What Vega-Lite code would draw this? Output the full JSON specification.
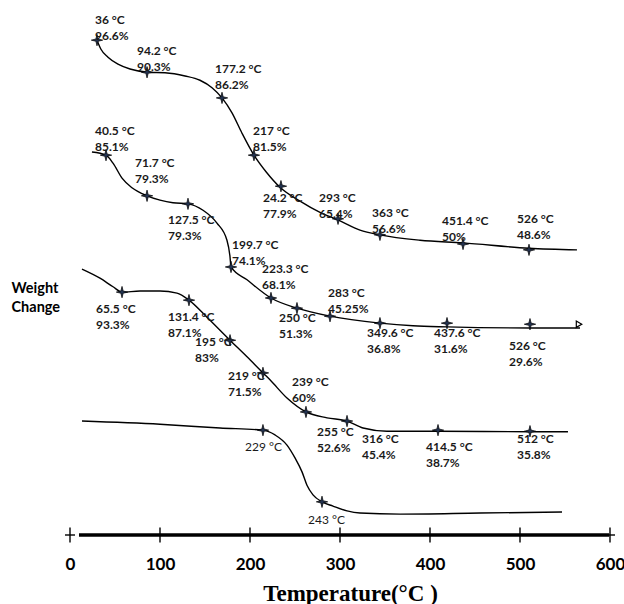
{
  "$schema": "https://vega.github.io/schema/vega-lite/v6.json",
  "width": 540,
  "height": 535,
  "autosize": {"type": "none"},
  "padding": {"left": 70, "top": 0, "right": 14, "bottom": 69},
  "background": "white",
  "config": {"view": {"stroke": null}},
  "datasets": {
    "curves": [
      {"curve": 1, "x": 30, "y": 92.5}, {"curve": 1, "x": 34.4, "y": 90.8}, {"curve": 1, "x": 42.2, "y": 89.3}, {"curve": 1, "x": 53.3, "y": 88.0}, {"curve": 1, "x": 66.7, "y": 87.1}, {"curve": 1, "x": 86.7, "y": 86.5}, {"curve": 1, "x": 105.6, "y": 86.4}, {"curve": 1, "x": 127.8, "y": 85.8}, {"curve": 1, "x": 144.4, "y": 85.0}, {"curve": 1, "x": 157.8, "y": 83.6}, {"curve": 1, "x": 168.9, "y": 81.7}, {"curve": 1, "x": 180, "y": 78.9}, {"curve": 1, "x": 191.1, "y": 75.1}, {"curve": 1, "x": 204.4, "y": 71.0}, {"curve": 1, "x": 217.8, "y": 67.9}, {"curve": 1, "x": 233.3, "y": 65.0}, {"curve": 1, "x": 255.6, "y": 62.4}, {"curve": 1, "x": 277.8, "y": 60.3}, {"curve": 1, "x": 297.8, "y": 58.9}, {"curve": 1, "x": 322.2, "y": 57.0}, {"curve": 1, "x": 344.4, "y": 56.1}, {"curve": 1, "x": 388.9, "y": 55.1}, {"curve": 1, "x": 436.7, "y": 54.6}, {"curve": 1, "x": 510, "y": 53.6}, {"curve": 1, "x": 563.3, "y": 53.3},
      {"curve": 2, "x": 24.4, "y": 71.6}, {"curve": 2, "x": 40, "y": 71.0}, {"curve": 2, "x": 47.8, "y": 69.5}, {"curve": 2, "x": 57.8, "y": 66.7}, {"curve": 2, "x": 68.9, "y": 64.9}, {"curve": 2, "x": 85.6, "y": 63.4}, {"curve": 2, "x": 100, "y": 62.6}, {"curve": 2, "x": 114.4, "y": 62.1}, {"curve": 2, "x": 131.1, "y": 61.9}, {"curve": 2, "x": 147.8, "y": 60.7}, {"curve": 2, "x": 163.3, "y": 58.3}, {"curve": 2, "x": 174.4, "y": 55.1}, {"curve": 2, "x": 177.8, "y": 52.0}, {"curve": 2, "x": 178.9, "y": 50.1}, {"curve": 2, "x": 196.7, "y": 47.7}, {"curve": 2, "x": 223.3, "y": 44.3}, {"curve": 2, "x": 252.2, "y": 42.4}, {"curve": 2, "x": 288.9, "y": 40.9}, {"curve": 2, "x": 344.4, "y": 39.6}, {"curve": 2, "x": 381.1, "y": 39.1}, {"curve": 2, "x": 418.9, "y": 38.9}, {"curve": 2, "x": 511.1, "y": 38.7}, {"curve": 2, "x": 566.7, "y": 38.7},
      {"curve": 3, "x": 13.3, "y": 49.7}, {"curve": 3, "x": 33.3, "y": 48.0}, {"curve": 3, "x": 47.8, "y": 46.4}, {"curve": 3, "x": 57.8, "y": 45.4}, {"curve": 3, "x": 77.8, "y": 45.6}, {"curve": 3, "x": 100, "y": 45.6}, {"curve": 3, "x": 118.9, "y": 45.2}, {"curve": 3, "x": 132.2, "y": 43.9}, {"curve": 3, "x": 152.2, "y": 40.7}, {"curve": 3, "x": 177.8, "y": 36.4}, {"curve": 3, "x": 196.7, "y": 33.3}, {"curve": 3, "x": 214.4, "y": 30.3}, {"curve": 3, "x": 222.2, "y": 29.0}, {"curve": 3, "x": 241.1, "y": 25.6}, {"curve": 3, "x": 262.2, "y": 23.0}, {"curve": 3, "x": 285.6, "y": 21.9}, {"curve": 3, "x": 307.8, "y": 21.3}, {"curve": 3, "x": 325.6, "y": 20.0}, {"curve": 3, "x": 352.2, "y": 19.4}, {"curve": 3, "x": 408.9, "y": 19.4}, {"curve": 3, "x": 511.1, "y": 19.3}, {"curve": 3, "x": 553.3, "y": 19.3},
      {"curve": 4, "x": 13.3, "y": 21.3}, {"curve": 4, "x": 100, "y": 20.7}, {"curve": 4, "x": 166.7, "y": 20.0}, {"curve": 4, "x": 214.4, "y": 19.6}, {"curve": 4, "x": 227.8, "y": 18.7}, {"curve": 4, "x": 241.1, "y": 16.8}, {"curve": 4, "x": 250, "y": 14.4}, {"curve": 4, "x": 257.8, "y": 11.8}, {"curve": 4, "x": 263.3, "y": 9.3}, {"curve": 4, "x": 270, "y": 7.5}, {"curve": 4, "x": 280, "y": 6.2}, {"curve": 4, "x": 292.2, "y": 5.4}, {"curve": 4, "x": 307.8, "y": 4.5}, {"curve": 4, "x": 322.2, "y": 4.1}, {"curve": 4, "x": 366.7, "y": 3.9}, {"curve": 4, "x": 455.6, "y": 4.1}, {"curve": 4, "x": 546.7, "y": 4.3}
    ],
    "markers": [
      {"x": 30, "y": 92.5}, {"x": 85.6, "y": 86.5}, {"x": 168.9, "y": 81.7}, {"x": 204.4, "y": 71.0}, {"x": 234.4, "y": 65.2}, {"x": 297.8, "y": 59.1}, {"x": 344.4, "y": 56.1}, {"x": 436.7, "y": 54.4}, {"x": 510, "y": 53.3},
      {"x": 40, "y": 71.0}, {"x": 85.6, "y": 63.4}, {"x": 131.1, "y": 61.9}, {"x": 178.9, "y": 50.1}, {"x": 223.3, "y": 44.3}, {"x": 252.2, "y": 42.4}, {"x": 288.9, "y": 40.9}, {"x": 344.4, "y": 39.6}, {"x": 418.9, "y": 39.6}, {"x": 511.1, "y": 39.4},
      {"x": 57.8, "y": 45.4}, {"x": 132.2, "y": 43.9}, {"x": 177.8, "y": 36.4}, {"x": 214.4, "y": 30.3}, {"x": 262.2, "y": 23.0}, {"x": 307.8, "y": 21.3}, {"x": 408.9, "y": 19.6}, {"x": 511.1, "y": 19.4},
      {"x": 214.4, "y": 19.6}, {"x": 280, "y": 6.2}
    ],
    "ends": [{"x": 565.6, "y": 39.4}],
    "axisline": [{"x": 10, "x2": 599, "y": 0}],
    "ticks": [{"x": 0, "y": 0}, {"x": 100, "y": 0}, {"x": 200, "y": 0}, {"x": 300, "y": 0}, {"x": 400, "y": 0}, {"x": 500, "y": 0}, {"x": 600, "y": 0}],
    "labels": [
      {"x": 27.8, "y": 95.5, "w": "bold", "label": "36 °C\n96.6%"},
      {"x": 74.4, "y": 89.7, "w": "bold", "label": "94.2 °C\n90.3%"},
      {"x": 161.1, "y": 86.4, "w": "bold", "label": "177.2 °C\n86.2%"},
      {"x": 203.3, "y": 74.8, "w": "bold", "label": "217 °C\n81.5%"},
      {"x": 214.4, "y": 62.2, "w": "bold", "label": "24.2 °C\n77.9%"},
      {"x": 276.7, "y": 62.2, "w": "bold", "label": "293 °C\n65.4%"},
      {"x": 335.6, "y": 59.4, "w": "bold", "label": "363 °C\n56.6%"},
      {"x": 413.3, "y": 57.9, "w": "bold", "label": "451.4 °C\n50%"},
      {"x": 496.7, "y": 58.3, "w": "bold", "label": "526 °C\n48.6%"},
      {"x": 27.8, "y": 74.8, "w": "bold", "label": "40.5 °C\n85.1%"},
      {"x": 72.2, "y": 68.8, "w": "bold", "label": "71.7 °C\n79.3%"},
      {"x": 108.9, "y": 58.1, "w": "bold", "label": "127.5 °C\n79.3%"},
      {"x": 180, "y": 53.5, "w": "bold", "label": "199.7 °C\n74.1%"},
      {"x": 213.3, "y": 49.0, "w": "bold", "label": "223.3 °C\n68.1%"},
      {"x": 232.2, "y": 39.8, "w": "bold", "label": "250 °C\n51.3%"},
      {"x": 286.7, "y": 44.5, "w": "bold", "label": "283 °C\n45.25%"},
      {"x": 330, "y": 37.0, "w": "bold", "label": "349.6 °C\n36.8%"},
      {"x": 404.4, "y": 37.0, "w": "bold", "label": "437.6 °C\n31.6%"},
      {"x": 487.8, "y": 34.6, "w": "bold", "label": "526 °C\n29.6%"},
      {"x": 28.9, "y": 41.5, "w": "bold", "label": "65.5 °C\n93.3%"},
      {"x": 108.9, "y": 40.0, "w": "bold", "label": "131.4 °C\n87.1%"},
      {"x": 138.9, "y": 35.3, "w": "bold", "label": "195 °C\n83%"},
      {"x": 175.6, "y": 29.0, "w": "bold", "label": "219 °C\n71.5%"},
      {"x": 246.7, "y": 27.9, "w": "bold", "label": "239 °C\n60%"},
      {"x": 274.4, "y": 18.5, "w": "bold", "label": "255 °C\n52.6%"},
      {"x": 324.4, "y": 17.2, "w": "bold", "label": "316 °C\n45.4%"},
      {"x": 395.6, "y": 15.7, "w": "bold", "label": "414.5 °C\n38.7%"},
      {"x": 496.7, "y": 17.2, "w": "bold", "label": "512 °C\n35.8%"},
      {"x": 194.4, "y": 15.7, "w": "normal", "label": "229 °C"},
      {"x": 264.4, "y": 2.1, "w": "normal", "label": "243 °C"}
    ]
  },
  "encoding": {
    "x": {
      "field": "x", "type": "quantitative",
      "scale": {"domain": [0, 600], "nice": false, "zero": false},
      "axis": {
        "values": [0, 100, 200, 300, 400, 500, 600],
        "domain": false, "ticks": false, "tickSize": 0, "grid": false,
        "labelFont": "Lato", "labelFontSize": 17, "labelFontWeight": "bold", "labelColor": "black",
        "labelPadding": 34, "labelBaseline": "alphabetic", "labelFlush": false, "labelOverlap": false,
        "title": "Temperature(°C )", "titleFont": "Liberation Serif", "titleFontSize": 23, "titleFontWeight": "bold",
        "titleColor": "black", "titleX": 280, "titleY": 65, "titleBaseline": "alphabetic", "titleAlign": "center"
      }
    },
    "y": {
      "field": "y", "type": "quantitative",
      "scale": {"domain": [0, 100], "nice": false, "zero": false},
      "axis": {
        "domain": false, "ticks": false, "labels": false, "grid": false,
        "title": ["Weight", "Change"], "titleAngle": 0, "titleAlign": "left", "titleBaseline": "alphabetic",
        "titleX": -59, "titleY": 292, "titleFont": "Lato", "titleFontSize": 14.5, "titleFontWeight": "bold",
        "titleColor": "black", "titleLineHeight": 19
      }
    }
  },
  "layer": [
    {
      "data": {"name": "curves"},
      "mark": {"type": "line", "interpolate": "monotone", "color": "black", "strokeWidth": 1.4},
      "encoding": {"detail": {"field": "curve", "type": "nominal"}}
    },
    {
      "data": {"name": "axisline"},
      "mark": {"type": "rule", "color": "black", "strokeWidth": 3.5},
      "encoding": {"x2": {"field": "x2"}}
    },
    {
      "data": {"name": "ticks"},
      "mark": {"type": "tick", "orient": "vertical", "color": "black", "size": 15, "thickness": 1.4, "opacity": 1}
    },
    {
      "data": {"name": "ticks"},
      "transform": [{"filter": "datum.x == 0 || datum.x == 600"}],
      "mark": {"type": "point", "shape": "M-1,0L1,0", "filled": false, "stroke": "black", "strokeWidth": 1.4, "size": 100, "opacity": 1}
    },
    {
      "data": {"name": "markers"},
      "mark": {"type": "point", "shape": "M0,-1L0.2,-0.2L1,0L0.2,0.2L0,1L-0.2,0.2L-1,0L-0.2,-0.2Z", "filled": true, "fill": "#23324f", "stroke": "black", "strokeWidth": 0.7, "size": 130, "opacity": 1}
    },
    {
      "data": {"name": "ends"},
      "mark": {"type": "point", "shape": "triangle-right", "filled": false, "stroke": "black", "strokeWidth": 1.2, "size": 40, "opacity": 1}
    },
    {
      "data": {"name": "labels"},
      "transform": [{"filter": "datum.w == 'bold'"}],
      "mark": {"type": "text", "align": "left", "baseline": "alphabetic", "font": "Lato", "fontSize": 12, "fontWeight": "bold", "lineHeight": 16, "lineBreak": "\n", "color": "#1a1a1a"},
      "encoding": {"text": {"field": "label"}}
    },
    {
      "data": {"name": "labels"},
      "transform": [{"filter": "datum.w == 'normal'"}],
      "mark": {"type": "text", "align": "left", "baseline": "alphabetic", "font": "Lato", "fontSize": 12, "fontWeight": "normal", "color": "#1a1a1a"},
      "encoding": {"text": {"field": "label"}}
    }
  ]
}
